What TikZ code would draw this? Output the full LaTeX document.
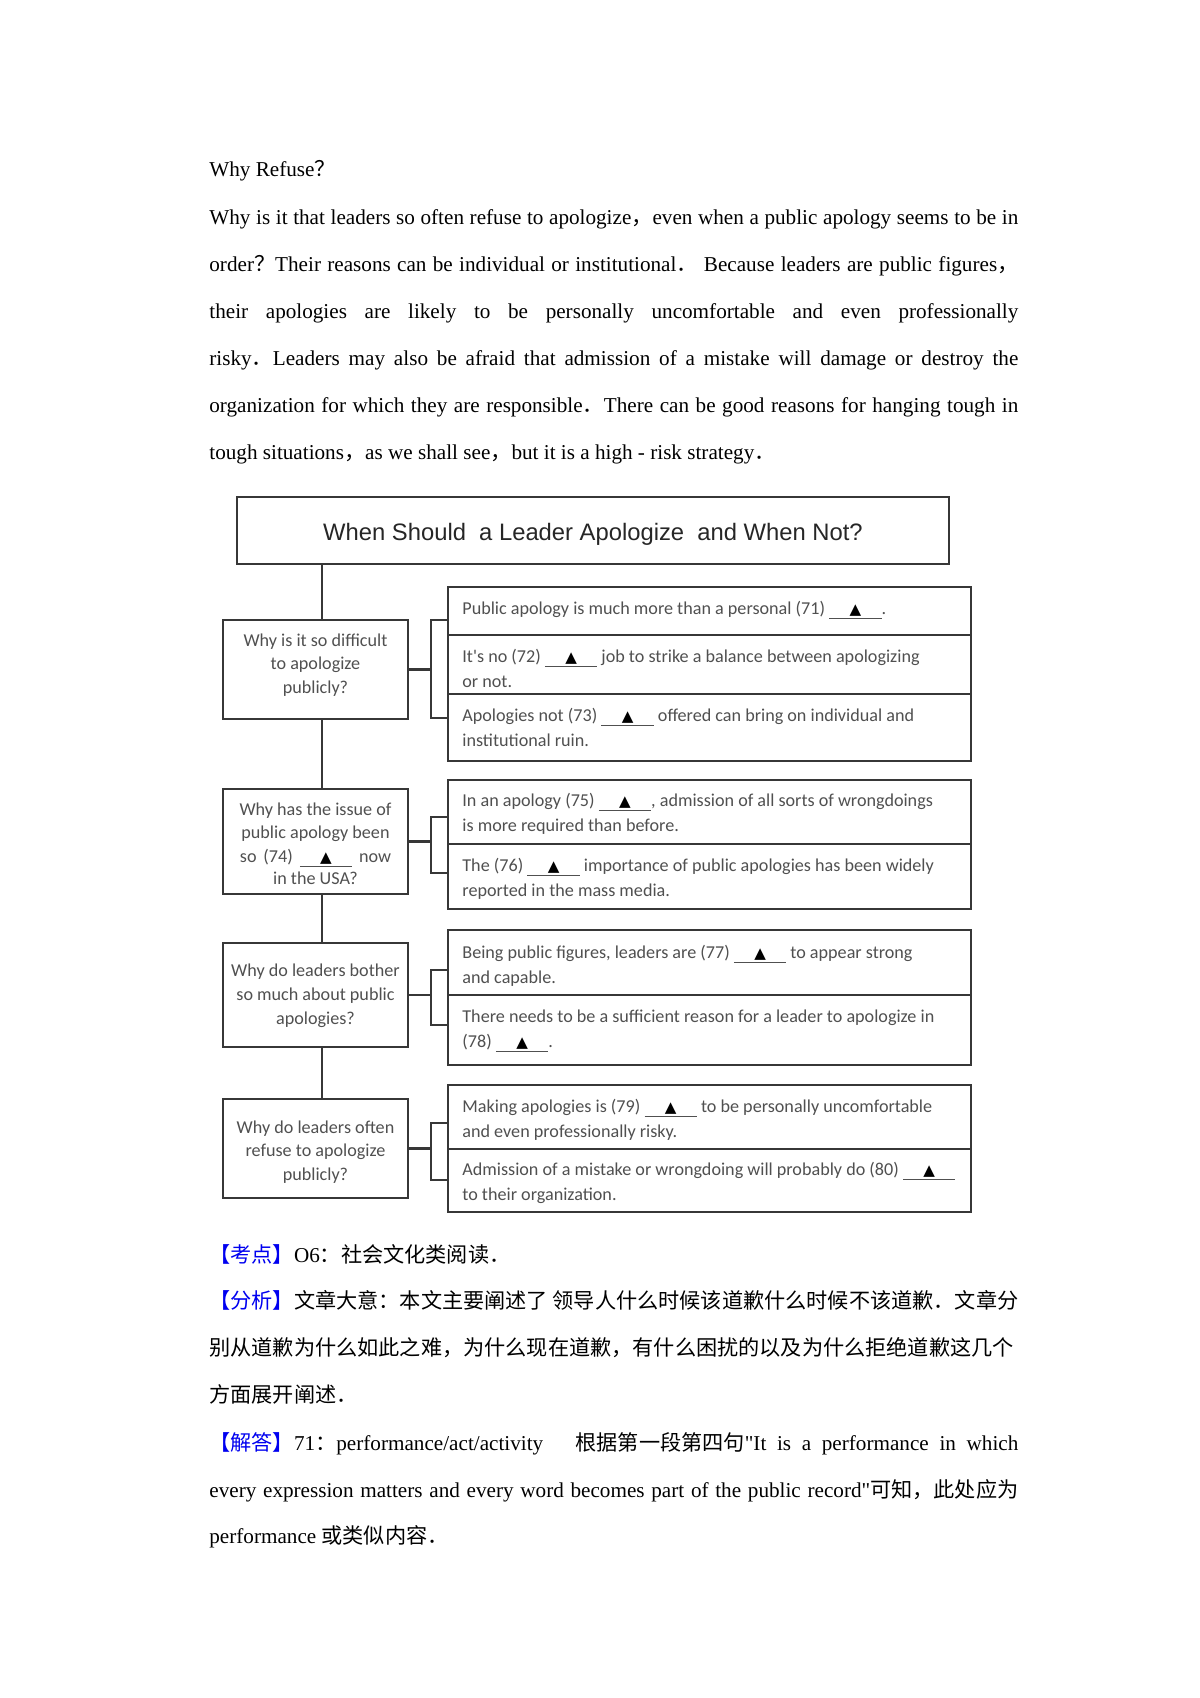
\documentclass[tikz,border=0pt]{standalone}
\usepackage{fontspec}
\setmainfont{Liberation Serif}[Ligatures=TeXOff]
\newfontfamily\cjk{Noto Sans CJK SC}
\newfontfamily\dfont{Carlito}
\newfontfamily\tfont{Liberation Sans}
\newfontfamily\symfont{DejaVu Sans}
\usetikzlibrary{fit}
\definecolor{kblue}{RGB}{0,0,240}
\definecolor{lnc}{RGB}{55,55,55}
\definecolor{txc}{RGB}{80,80,80}
\newcommand\blk{\underline{\makebox[26pt]{{\symfont\fontsize{7.5pt}{7.5pt}\selectfont\color{black}▲}}}}
\newcommand\kb[1]{{\color{kblue}\cjk #1}}
\begin{document}
\begin{tikzpicture}[x=0.49606pt,y=-0.49606pt,
  body/.style={anchor=base west,inner sep=0,font=\fontsize{10.5pt}{12pt}\selectfont},
  box/.style={draw=lnc,line width=1.3pt,inner sep=0},
  ln/.style={draw=lnc,line width=1.3pt},
  rt/.style={anchor=base west,inner sep=0,text=txc,font=\dfont\fontsize{9pt}{11pt}\selectfont},
  lt/.style={anchor=base,inner sep=0,text=txc,font=\dfont\fontsize{9pt}{11pt}\selectfont},
]
\fill[white] (0,0) rectangle (1200,1698);
\useasboundingbox (0,0) rectangle (1200,1698);

% ---------- paragraph ----------
\node[body] (p0) at (209,176) {Why Refuse{\cjk ？}};
\node[body] (p1) at (209,224.5) {\makebox[401.3pt][s]{Why is it that leaders so often refuse to apologize{\cjk ，}even when a public apology seems to be in}};
\node[body] (p2) at (209,271.5) {\makebox[401.3pt][s]{order{\cjk ？}Their reasons can be individual or institutional{\cjk ．} Because leaders are public figures{\cjk ，}}};
\node[body] (p3) at (209,318.5) {\makebox[401.3pt][s]{their apologies are likely to be personally uncomfortable and even professionally}};
\node[body] (p4) at (209,365.3) {\makebox[401.3pt][s]{risky{\cjk ．}Leaders may also be afraid that admission of a mistake will damage or destroy the}};
\node[body] (p5) at (209,412.2) {\makebox[401.3pt][s]{organization for which they are responsible{\cjk ．}There can be good reasons for hanging tough in}};
\node[body] (p6) at (209,459) {tough situations{\cjk ，}as we shall see{\cjk ，}but it is a high - risk strategy{\cjk ．}};

% ---------- diagram boxes ----------
\node[box,fit={(237,497)(949,564)}] (title) {};
\node[anchor=base,inner sep=0,text=black!85,font=\tfont\fontsize{11.8pt}{12pt}\selectfont] (tt) at (593,540) {When Should\ \ a Leader Apologize\ \ and When Not?};

\node[box,fit={(223,620)(408,719)}] (L1) {};
\node[box,fit={(223,789)(408,894)}] (L2) {};
\node[box,fit={(223,943)(408,1047)}] (L3) {};
\node[box,fit={(223,1099)(408,1198)}] (L4) {};

\node[box,fit={(448,587)(971,635)}] (R1a) {};
\node[box,fit={(448,635)(971,694)}] (R1b) {};
\node[box,fit={(448,694)(971,761)}] (R1c) {};
\node[box,fit={(448,780)(971,844)}] (R2a) {};
\node[box,fit={(448,844)(971,909)}] (R2b) {};
\node[box,fit={(448,930)(971,995)}] (R3a) {};
\node[box,fit={(448,995)(971,1065)}] (R3b) {};
\node[box,fit={(448,1085)(971,1149)}] (R4a) {};
\node[box,fit={(448,1149)(971,1212)}] (R4b) {};

% trunk
\coordinate (tk) at (322,0);
\draw[ln] (title.south -| tk) -- (L1.north -| tk);
\draw[ln] (L1.south -| tk) -- (L2.north -| tk);
\draw[ln] (L2.south -| tk) -- (L3.north -| tk);
\draw[ln] (L3.south -| tk) -- (L4.north -| tk);

% brackets
\coordinate (b1t) at (431,620);  \coordinate (b1b) at (431,718);
\coordinate (b2t) at (431,817);  \coordinate (b2b) at (431,873);
\coordinate (b3t) at (431,970);  \coordinate (b3b) at (431,1025);
\coordinate (b4t) at (431,1123); \coordinate (b4b) at (431,1180);
\draw[ln] (L1.east) -- (L1.east -| b1t);
\draw[ln] (b1t -| R1a.west) -- (b1t) -- (b1b) -- (b1b -| R1c.west);
\draw[ln] (L2.east) -- (L2.east -| b2t);
\draw[ln] (b2t -| R2a.west) -- (b2t) -- (b2b) -- (b2b -| R2b.west);
\draw[ln] (L3.east) -- (L3.east -| b3t);
\draw[ln] (b3t -| R3a.west) -- (b3t) -- (b3b) -- (b3b -| R3b.west);
\draw[ln] (L4.east) -- (L4.east -| b4t);
\draw[ln] (b4t -| R4a.west) -- (b4t) -- (b4b) -- (b4b -| R4b.west);

% left texts
\node[lt] (l1a) at (315.5,646) {Why is it so difficult};
\node[lt] (l1b) at (315.5,669) {to apologize};
\node[lt] (l1c) at (315.5,693) {publicly?};
\node[lt] (l2a) at (315.5,815) {Why has the issue of};
\node[lt] (l2b) at (315.5,838) {public apology been};
\node[lt] (l2c) at (315.5,862) {\makebox[75pt][s]{so (74) \blk\ now}};
\node[lt] (l2d) at (315.5,884) {in the USA?};
\node[lt] (l3a) at (315.5,976) {Why do leaders bother};
\node[lt] (l3b) at (315.5,1000) {so much about public};
\node[lt] (l3c) at (315.5,1024) {apologies?};
\node[lt] (l4a) at (315.5,1133) {Why do leaders often};
\node[lt] (l4b) at (315.5,1156) {refuse to apologize};
\node[lt] (l4c) at (315.5,1180) {publicly?};

% right texts
\node[rt] (t1a) at (462,614) {Public apology is much more than a personal (71) \blk.};
\node[rt] (t1b) at (462,662) {It's no (72) \blk\ job to strike a balance between apologizing};
\node[rt] (t1b2) at (462,687) {or not.};
\node[rt] (t1c) at (462,721) {Apologies not (73) \blk\ offered can bring on individual and};
\node[rt] (t1c2) at (462,746) {institutional ruin.};
\node[rt] (t2a) at (462,806) {In an apology (75) \blk, admission of all sorts of wrongdoings};
\node[rt] (t2a2) at (462,831) {is more required than before.};
\node[rt] (t2b) at (462,871) {The (76) \blk\ importance of public apologies has been widely};
\node[rt] (t2b2) at (462,896) {reported in the mass media.};
\node[rt] (t3a) at (462,958) {Being public figures, leaders are (77) \blk\ to appear strong};
\node[rt] (t3a2) at (462,983) {and capable.};
\node[rt] (t3b) at (462,1022) {There needs to be a sufficient reason for a leader to apologize in};
\node[rt] (t3b2) at (462,1047) {(78) \blk.};
\node[rt] (t4a) at (462,1112) {Making apologies is (79) \blk\ to be personally uncomfortable};
\node[rt] (t4a2) at (462,1137) {and even professionally risky.};
\node[rt] (t4b) at (462,1175) {Admission of a mistake or wrongdoing will probably do (80) \blk};
\node[rt] (t4b2) at (462,1200) {to their organization.};

% ---------- answer text ----------
\node[body] (q1) at (209,1262) {\kb{【考点】}O6{\cjk ：社会文化类阅读．}};
\node[body] (q2) at (209,1308) {\kb{【分析】}{\cjk 文章大意：本文主要阐述了 领导人什么时候该道歉什么时候不该道歉．文章分}};
\node[body] (q3) at (209,1355) {{\cjk 别从道歉为什么如此之难，为什么现在道歉，有什么困扰的以及为什么拒绝道歉这几个}};
\node[body] (q4) at (209,1402) {{\cjk 方面展开阐述．}};
\node[body] (q5) at (209,1450) {\makebox[401.3pt][s]{\kb{【解答】}71{\cjk ：}performance/act/activity\hspace{16pt}{\cjk 根据第一段第四句}"It is a performance in which}};
\node[body] (q6) at (209,1497) {\makebox[401.3pt][s]{every expression matters and every word becomes part of the public record"{\cjk 可知，此处应为}}};
\node[body] (q7) at (209,1543) {performance {\cjk 或类似内容．}};
\end{tikzpicture}
\end{document}
